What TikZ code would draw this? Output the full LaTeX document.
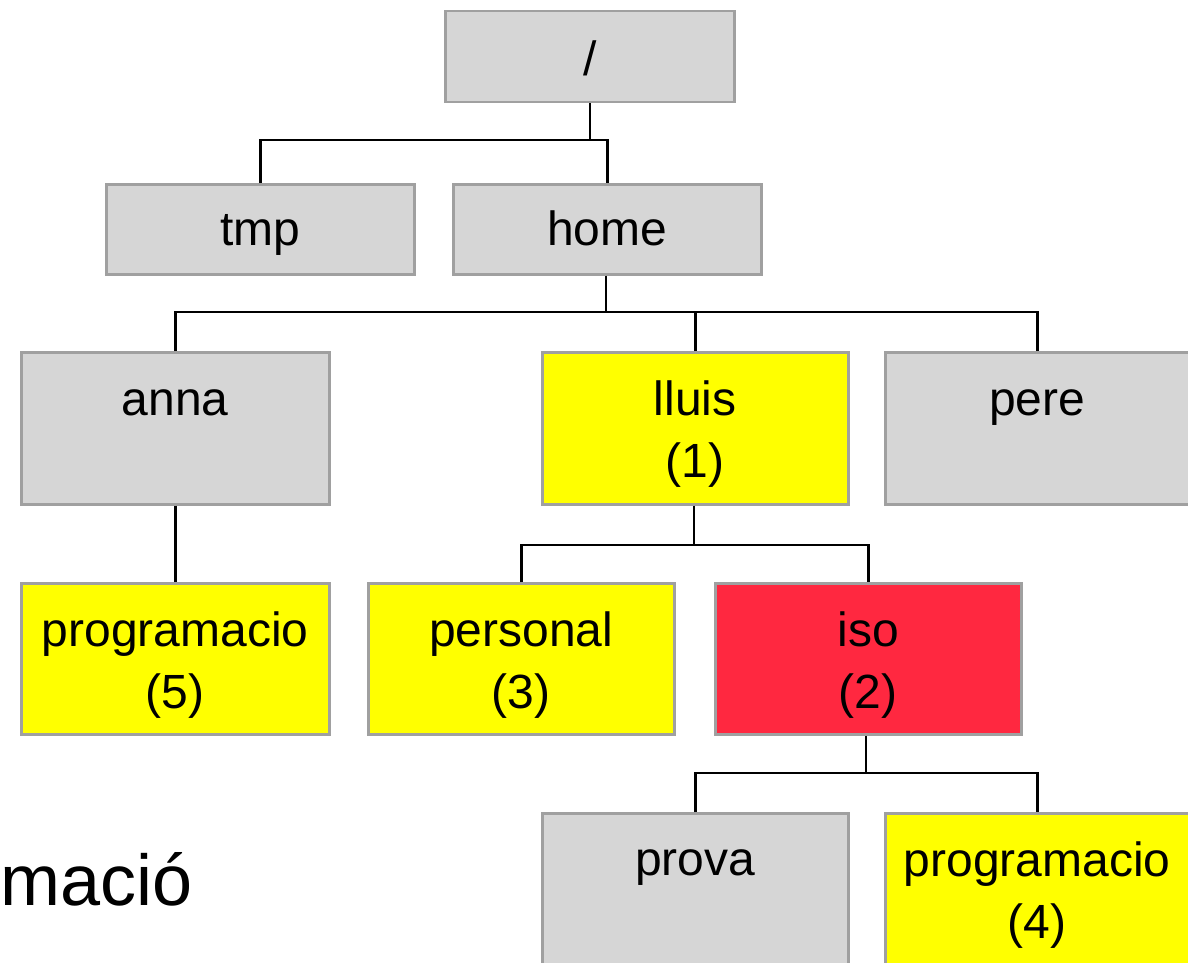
\documentclass[tikz,border=0pt]{standalone}
\usepackage{fontspec}
\setmainfont{Liberation Sans}
\definecolor{boxgray}{RGB}{214,214,214}
\definecolor{edgegray}{RGB}{160,160,160}
\definecolor{boxyellow}{RGB}{255,255,0}
\definecolor{boxred}{RGB}{255,40,64}
\tikzset{
  dirbox/.style={draw=edgegray, line width=2.5pt, anchor=north west, inner sep=0pt, minimum width=308pt},
  graybox/.style={dirbox, fill=boxgray},
  yellowbox/.style={dirbox, fill=boxyellow},
  redbox/.style={dirbox, fill=boxred},
  lbl/.style={inner sep=0pt, align=center, font=\fontsize{48}{62}\selectfont, text=black},
  conn/.style={draw=black, line width=2.5pt}
}
\begin{document}
\begin{tikzpicture}[x=1pt,y=-1pt]
\useasboundingbox (0,0) rectangle (1188,963);
% boxes
\node[graybox, minimum width=289pt, minimum height=91pt] (root) at (444,10) {};
\node[graybox, minimum height=90pt] (tmp) at (105,183) {};
\node[graybox, minimum height=90pt] (home) at (452,183) {};
\node[graybox, minimum height=152pt] (anna) at (20,351) {};
\node[yellowbox, minimum height=152pt, minimum width=306pt] (lluis) at (541,351) {};
\node[graybox, minimum height=152pt, minimum width=304pt] (pere) at (884,351) {};
\node[yellowbox, minimum height=151pt] (prog5) at (20,582) {};
\node[yellowbox, minimum height=151pt, minimum width=306pt] (personal) at (367,582) {};
\node[redbox, minimum height=151pt, minimum width=306pt] (iso) at (714,582) {};
\node[graybox, minimum height=151pt, minimum width=306pt] (prova) at (541,812) {};
\node[yellowbox, minimum height=151pt, minimum width=304pt] (prog4) at (884,812) {};
% labels
\node[lbl] (roott) at ([yshift=-2pt]root.center) {/};
\node[lbl, anchor=base] (tmpt) at ([yshift=-62pt]tmp.north) {tmp};
\node[lbl, anchor=base] (homet) at ([yshift=-62pt]home.north) {home};
\node[lbl, anchor=base] (annat) at ([yshift=-64pt]anna.north) {anna};
\node[lbl] (lluist) at ([yshift=-83pt]lluis.north) {lluis\\(1)};
\node[lbl, anchor=base] (peret) at ([yshift=-64pt]pere.north) {pere};
\node[lbl] (prog5t) at ([yshift=-83pt]prog5.north) {programacio\\(5)};
\node[lbl] (personalt) at ([yshift=-83pt]personal.north) {personal\\(3)};
\node[lbl] (isot) at ([yshift=-83pt]iso.north) {iso\\(2)};
\node[lbl, anchor=base] (provat) at ([yshift=-63pt]prova.north) {prova};
\node[lbl] (prog4t) at ([yshift=-83pt]prog4.north) {programacio\\(4)};
% partial title text
\node[inner sep=0pt, anchor=base west, font=\fontsize{72}{72}\selectfont] (title) at (0,905) {mació};
% connectors
\coordinate (j1) at (590,140);
\coordinate (j2) at (606,312);
\coordinate (j3) at (694,545);
\coordinate (j4) at (866,773);
\draw[conn] (root.south -| j1) -- (j1);
\draw[conn] (tmp.north) |- (j1) -| (home.north);
\draw[conn] (home.south -| j2) -- (j2);
\draw[conn] (anna.north) |- (j2) -| (pere.north);
\draw[conn] (lluis.north) -- (lluis.north |- j2);
\draw[conn] (anna.south) -- (prog5.north);
\draw[conn] (lluis.south -| j3) -- (j3);
\draw[conn] (personal.north) |- (j3) -| (iso.north);
\draw[conn] (iso.south -| j4) -- (j4);
\draw[conn] (prova.north) |- (j4) -| (prog4.north);
\end{tikzpicture}
\end{document}
